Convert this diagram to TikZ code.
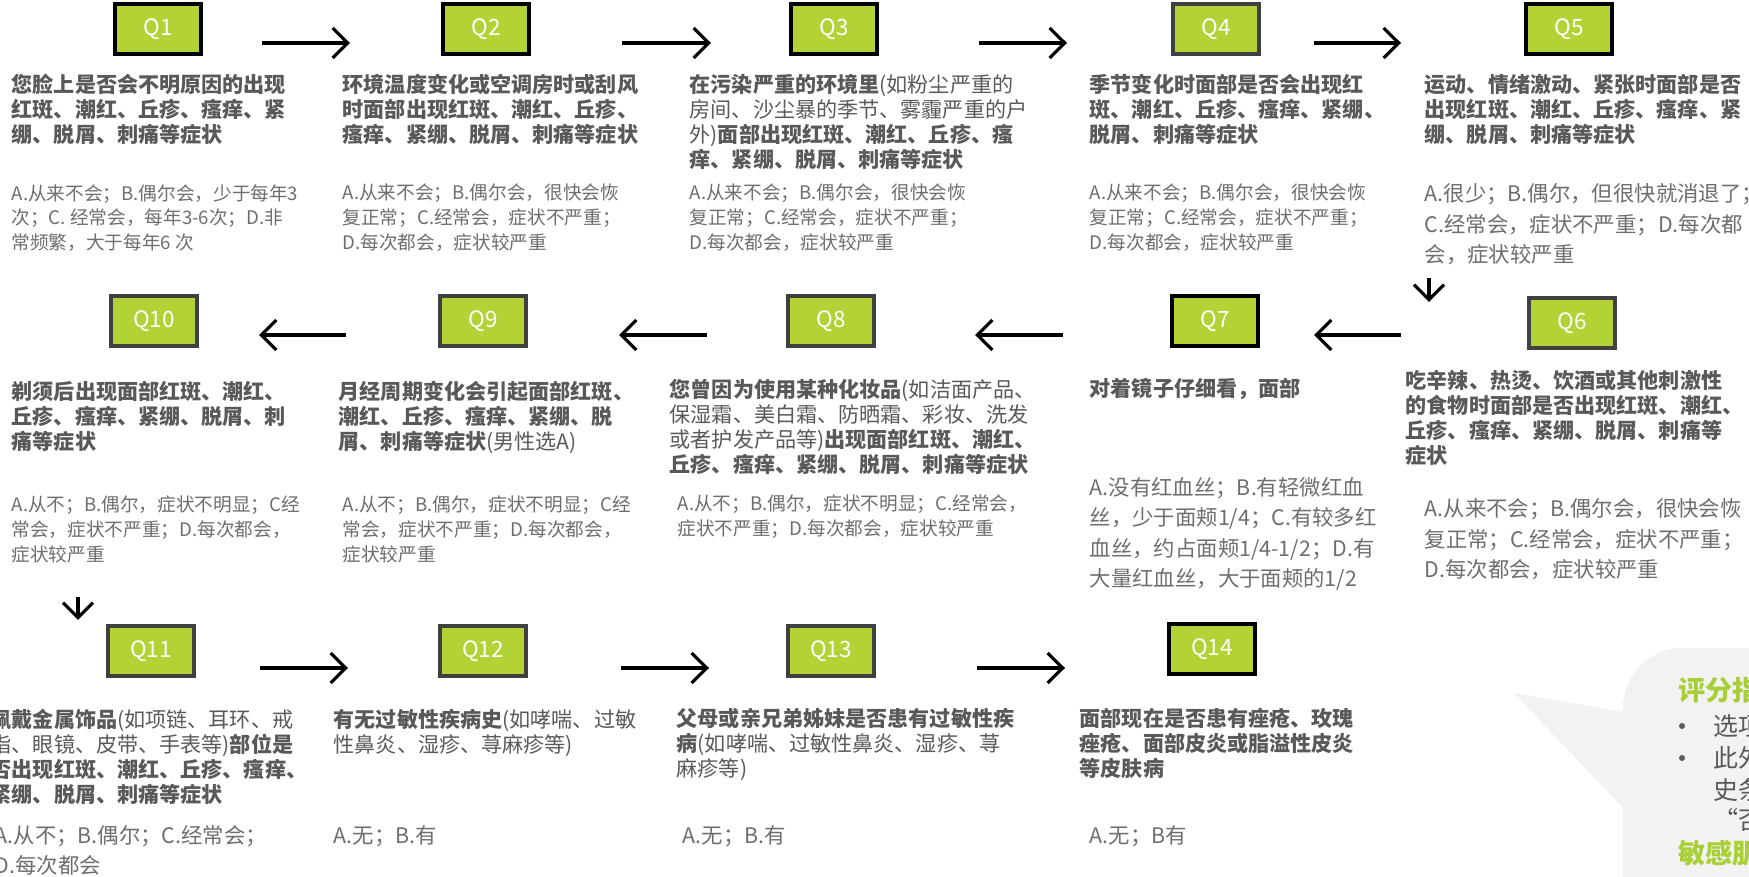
\documentclass[tikz,border=0pt]{standalone}
\usepackage{fontspec}
\setmainfont{Noto Sans CJK SC}
\usetikzlibrary{arrows.meta}

\definecolor{qgreen}{HTML}{B3D235}
\definecolor{qline}{HTML}{404040}
\definecolor{qtext}{HTML}{595959}
\definecolor{atext}{HTML}{6E6E6E}
\definecolor{callgray}{HTML}{F2F2F2}
\definecolor{callgreen}{HTML}{A9CF38}

\begin{document}
\begin{tikzpicture}[x=0.01cm, y=-0.01cm]

% Page frame
\useasboundingbox (0,0) rectangle (1749,877);
\clip (0,0) rectangle (1749,877);
\fill[white] (0,0) rectangle (1749,877);

% Define styles for boxes, texts and arrows
\tikzstyle{qbox} = [rectangle, fill=qgreen, draw=qline, line width=1pt, minimum width=0.86cm, minimum height=0.5cm, inner sep=0pt, text=white, font=\fontsize{6.4}{7}\selectfont]
\tikzstyle{qboxdark} = [qbox, draw=black]
\tikzstyle{ques} = [anchor=north west, inner sep=0pt, align=left, text=qtext, font=\fontsize{6.0}{7.11}\selectfont\bfseries]
\tikzstyle{ans} = [anchor=north west, inner sep=0pt, align=left, text=atext, font=\fontsize{5.3}{6.97}\selectfont]
\tikzstyle{ansbig} = [ans, font=\fontsize{6.08}{8.62}\selectfont]
\tikzstyle{arr} = [-{Straight Barb[length=4.3pt, width=8.5pt]}, line width=0.9pt]
\tikzstyle{ctitle} = [anchor=west, inner sep=0pt, text=callgreen, font=\fontsize{7.7}{9}\selectfont\bfseries]
\tikzstyle{cline} = [anchor=west, inner sep=0pt, text=qtext, font=\fontsize{7.1}{9}\selectfont]
\tikzstyle{cdot} = [circle, fill=qtext, inner sep=0pt, minimum size=0.06cm]

% Question boxes
\node[qboxdark] (q1) at (158,29) {Q1};
\node[qboxdark] (q2) at (486,29) {Q2};
\node[qboxdark] (q3) at (834,29) {Q3};
\node[qbox] (q4) at (1216,29) {Q4};
\node[qboxdark] (q5) at (1569,29) {Q5};
\node[qbox] (q10) at (154,321) {Q10};
\node[qbox] (q9) at (483,321) {Q9};
\node[qbox] (q8) at (831,321) {Q8};
\node[qboxdark] (q7) at (1215,321) {Q7};
\node[qbox] (q6) at (1572,323) {Q6};
\node[qbox] (q11) at (151,651) {Q11};
\node[qbox] (q12) at (483,651) {Q12};
\node[qbox] (q13) at (831,651) {Q13};
\node[qboxdark] (q14) at (1212,649) {Q14};

% Row 1
\node[ques] (t1) at (11,73.5) {您脸上是否会不明原因的出现\\红斑、潮红、丘疹、瘙痒、紧\\绷、脱屑、刺痛等症状};
\node[ans] (a1) at (11,183.6) {A.从来不会；B.偶尔会，少于每年3\\次；C. 经常会，每年3-6次；D.非\\常频繁，大于每年6 次};
\node[ques] (t2) at (342,73.5) {环境温度变化或空调房时或刮风\\时面部出现红斑、潮红、丘疹、\\瘙痒、紧绷、脱屑、刺痛等症状};
\node[ans] (a2) at (342,183.6) {A.从来不会；B.偶尔会，很快会恢\\复正常；C.经常会，症状不严重；\\D.每次都会，症状较严重};
\node[ques] (t3) at (689,73.5) {在污染严重的环境里\textmd{(如粉尘严重的}\\\textmd{房间、沙尘暴的季节、雾霾严重的户}\\\textmd{外)}面部出现红斑、潮红、丘疹、瘙\\痒、紧绷、脱屑、刺痛等症状};
\node[ans] (a3) at (689,183.6) {A.从来不会；B.偶尔会，很快会恢\\复正常；C.经常会，症状不严重；\\D.每次都会，症状较严重};
\node[ques] (t4) at (1089,73.5) {季节变化时面部是否会出现红\\斑、潮红、丘疹、瘙痒、紧绷、\\脱屑、刺痛等症状};
\node[ans] (a4) at (1089,183.6) {A.从来不会；B.偶尔会，很快会恢\\复正常；C.经常会，症状不严重；\\D.每次都会，症状较严重};
\node[ques] (t5) at (1424,73.5) {运动、情绪激动、紧张时面部是否\\出现红斑、潮红、丘疹、瘙痒、紧\\绷、脱屑、刺痛等症状};
\node[ansbig] (a5) at (1424,183) {A.很少；B.偶尔，但很快就消退了；\\C.经常会，症状不严重；D.每次都\\会，症状较严重};

% Row 2
\node[ques] (t10) at (11,380.5) {剃须后出现面部红斑、潮红、\\丘疹、瘙痒、紧绷、脱屑、刺\\痛等症状};
\node[ans] (a10) at (11,495.6) {A.从不；B.偶尔，症状不明显；C经\\常会，症状不严重；D.每次都会，\\症状较严重};
\node[ques] (t9) at (338,380.5) {月经周期变化会引起面部红斑、\\潮红、丘疹、瘙痒、紧绷、脱\\屑、刺痛等症状\textmd{(男性选A)}};
\node[ans] (a9) at (342,495.6) {A.从不；B.偶尔，症状不明显；C经\\常会，症状不严重；D.每次都会，\\症状较严重};
\node[ques] (t8) at (669,378.5) {您曾因为使用某种化妆品\textmd{(如洁面产品、}\\\textmd{保湿霜、美白霜、防晒霜、彩妆、洗发}\\\textmd{或者护发产品等)}出现面部红斑、潮红、\\丘疹、瘙痒、紧绷、脱屑、刺痛等症状};
\node[ans] (a8) at (677,494.6) {A.从不；B.偶尔，症状不明显；C.经常会，\\症状不严重；D.每次都会，症状较严重};
\node[ques] (t7) at (1089,377.5) {对着镜子仔细看，面部};
\node[ansbig] (a7) at (1089,477) {A.没有红血丝；B.有轻微红血\\丝，少于面颊1/4；C.有较多红\\血丝，约占面颊1/4-1/2；D.有\\大量红血丝，大于面颊的1/2};
\node[ques] (t6) at (1405,369.5) {吃辛辣、热烫、饮酒或其他刺激性\\的食物时面部是否出现红斑、潮红、\\丘疹、瘙痒、紧绷、脱屑、刺痛等\\症状};
\node[ansbig] (a6) at (1424,498) {A.从来不会；B.偶尔会，很快会恢\\复正常；C.经常会，症状不严重；\\D.每次都会，症状较严重};

% Row 3
\node[ques] (t11) at (-10,708.5) {佩戴金属饰品\textmd{(如项链、耳环、戒}\\\textmd{指、眼镜、皮带、手表等)}部位是\\否出现红斑、潮红、丘疹、瘙痒、\\紧绷、脱屑、刺痛等症状};
\node[ansbig] (a11) at (-6,825) {A.从不；B.偶尔；C.经常会；\\D.每次都会};
\node[ques] (t12) at (333,708.5) {有无过敏性疾病史\textmd{(如哮喘、过敏}\\\textmd{性鼻炎、湿疹、荨麻疹等)}};
\node[ansbig] (a12) at (333,825) {A.无；B.有};
\node[ques] (t13) at (676,707.5) {父母或亲兄弟姊妹是否患有过敏性疾\\病\textmd{(如哮喘、过敏性鼻炎、湿疹、荨}\\\textmd{麻疹等)}};
\node[ansbig] (a13) at (682,825) {A.无；B.有};
\node[ques] (t14) at (1079,707.5) {面部现在是否患有痤疮、玫瑰\\痤疮、面部皮炎或脂溢性皮炎\\等皮肤病};
\node[ansbig] (a14) at (1089,825) {A.无；B有};

% Arrows between the questions
\coordinate (r1a) at (262,43);  \coordinate (r1b) at (350,43);
\coordinate (r1c) at (622,43);  \coordinate (r1d) at (711,43);
\coordinate (r1e) at (979,43);  \coordinate (r1f) at (1067,43);
\coordinate (r1g) at (1314,43); \coordinate (r1h) at (1401,43);
\coordinate (r2a) at (1401,335); \coordinate (r2b) at (1314,335);
\coordinate (r2c) at (1063,335); \coordinate (r2d) at (975,335);
\coordinate (r2e) at (707,335);  \coordinate (r2f) at (619,335);
\coordinate (r2g) at (346,335);  \coordinate (r2h) at (259,335);
\coordinate (r3a) at (260,668); \coordinate (r3b) at (348,668);
\coordinate (r3c) at (621,668); \coordinate (r3d) at (709,668);
\coordinate (r3e) at (977,668); \coordinate (r3f) at (1065,668);
\coordinate (d1a) at (1429,278); \coordinate (d1b) at (1429,302);
\coordinate (d2a) at (78,597);   \coordinate (d2b) at (78,620);

\draw[arr] (r1a) -- (r1b);
\draw[arr] (r1c) -- (r1d);
\draw[arr] (r1e) -- (r1f);
\draw[arr] (r1g) -- (r1h);
\draw[arr] (d1a) -- (d1b);
\draw[arr] (r2a) -- (r2b);
\draw[arr] (r2c) -- (r2d);
\draw[arr] (r2e) -- (r2f);
\draw[arr] (r2g) -- (r2h);
\draw[arr] (d2a) -- (d2b);
\draw[arr] (r3a) -- (r3b);
\draw[arr] (r3c) -- (r3d);
\draw[arr] (r3e) -- (r3f);

% Scoring callout, cut by the page edge
\fill[callgray, rounded corners=0.6cm] (1623,648) rectangle (1900,1000);
\fill[callgray] (1623,712) -- (1514,693) -- (1623,808) -- cycle;
\node[ctitle] (c0) at (1678,690) {评分指标};
\node[cdot] (c1b) at (1682,726) {};
\node[cline] (c1) at (1713,726) {选项};
\node[cdot] (c2b) at (1682,758) {};
\node[cline] (c2) at (1713,758) {此外};
\node[cline] (c3) at (1713,790) {史条};
\node[cline] (c4) at (1713,820) {“否};
\node[ctitle] (c5) at (1678,853) {敏感肌};

\end{tikzpicture}
\end{document}
